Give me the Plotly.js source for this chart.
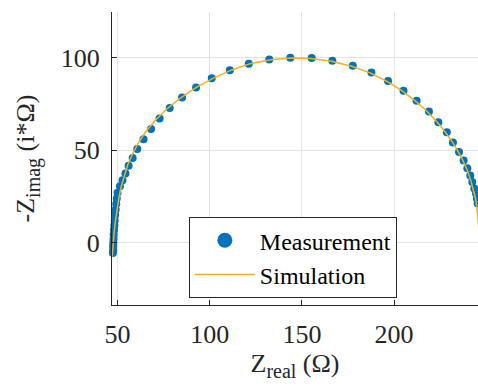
<!DOCTYPE html>
<html>
<head>
<meta charset="utf-8">
<script src="https://cdn.plot.ly/plotly-3.0.1.min.js"></script>
<style>html,body{margin:0;padding:0;background:#fff;}#chart{width:478px;height:389px;}</style>
</head>
<body>
<div id="chart"></div>
<script>
const measZreal = [47.5, 47.6, 47.6, 47.7, 47.8, 47.9, 48.1, 48.3, 48.5, 48.7, 49.0, 49.3, 49.6,
  50.0, 51.3, 52.7, 54.3, 56.0, 58.2, 60.7, 64.1, 68.2, 72.8, 78.3, 85.0, 92.6, 101.1, 110.9,
  121.2, 132.3, 143.7, 155.3, 166.5, 177.6, 187.7, 196.7, 205.1, 212.2, 218.9, 224.0, 228.6,
  231.9, 235.2, 237.7, 239.7, 241.3, 242.4, 243.5, 244.4, 244.9, 245.3, 245.6, 245.9, 246.1, 246.3, 246.5];
const measZimag = [-5.5, -4, -2, 0, 2, 4.5, 7, 9.5, 12, 15, 18, 21, 24,
  27.0, 30.6, 33.8, 37.4, 41.6, 45.8, 50.7, 56.0, 61.5, 67.1, 72.9, 78.5, 83.9, 88.9, 93.2,
  96.8, 99.0, 100.0, 99.8, 98.4, 95.7, 92.0, 87.4, 82.2, 76.8, 70.9, 65.1, 59.7,
  54.2, 49.1, 44.5, 40.3, 36.4, 32.9, 29.4, 26.7, 24.0, 21.3, 18.5, 15.5, 12.5, 9.5, 6.5];

// Simulation
const simZreal = [47.1, 47.4, 47.8, 48.3, 48.9, 49.7, 50.7, 51.9, 53.5, 55.5, 58.1, 61.3, 65.3,
  70.3, 76.4, 83.9, 92.5, 102.0, 112.0, 122.0, 133.0, 144.0, 155.0, 166.0, 177.0, 187.0,
  196.0, 204.0, 211.0, 217.0, 222.0, 226.5, 230.5, 234.0, 237.0, 239.5, 241.5, 243.0,
  244.2, 245.0, 245.6, 246.2, 246.6];
const simZimag = [-7.5, -3, 2, 7, 12, 18, 24, 30, 36, 42, 48, 54, 60,
  66, 72, 78, 83.8, 89.0, 93.4, 96.8, 98.9, 99.8, 99.6, 98.1, 95.4, 91.8,
  87.3, 82.3, 77.1, 71.9, 66.7, 61.5, 56.1, 50.6, 45.1, 39.6, 34.0, 29.0,
  23.8, 18.2, 12.2, 6.5, 0];

const xTicks = [50, 100, 150, 200];
const yTicks = [0, 50, 100];

const serif = '"Liberation Serif", "Times New Roman", serif';
const ink = '#262626';
const blue = '#0072BD';

const traces = [
  {
    x: measZreal, y: measZimag, type: 'scatter', mode: 'markers', name: 'Measurement',
    marker: {color: blue, size: 8}, cliponaxis: false, showlegend: false, legendgroup: 'm'
  },
  { // legend entry for Measurement (larger symbol, no data)
    x: [null], y: [null], type: 'scatter', mode: 'markers', name: 'Measurement',
    marker: {color: blue, size: 15}, legendgroup: 'm', legendrank: 1
  },
  {
    x: simZreal, y: simZimag, type: 'scatter', mode: 'lines', name: 'Simulation',
    line: {color: '#EDB120', width: 1.5}, cliponaxis: false, legendrank: 2
  }
];

const layout = {
  width: 478, height: 389,
  margin: {l: 112, r: 0, t: 12, b: 84},
  paper_bgcolor: '#fff', plot_bgcolor: '#fff',
  font: {family: serif, color: ink, size: 26},
  showlegend: true,
  legend: {
    x: 0.21, y: 0.30, xanchor: 'left', yanchor: 'top',
    bgcolor: '#fff', bordercolor: ink, borderwidth: 1,
    font: {family: serif, size: 24, color: '#000'},
    itemwidth: 60, tracegroupgap: 0, traceorder: 'normal'
  },
  xaxis: {
    range: [47, 245.5], tickvals: xTicks, ticktext: xTicks.map(String),
    ticks: 'inside', ticklen: 5, tickcolor: ink, showline: true, linecolor: ink, linewidth: 1,
    showgrid: true, gridcolor: '#e3e3e3', zeroline: false,
    tickfont: {family: serif, size: 26, color: ink}, ticklabelstandoff: 6,
    title: {text: 'Z<sub><span style="font-size:20px">real</span></sub> (Ω)', font: {family: serif, size: 26, color: ink}, standoff: 5}
  },
  yaxis: {
    range: [-33.6, 124.7], tickvals: yTicks, ticktext: yTicks.map(String),
    ticks: 'inside', ticklen: 5, tickcolor: ink, showline: true, linecolor: ink, linewidth: 1,
    showgrid: true, gridcolor: '#e3e3e3', zeroline: false,
    tickfont: {family: serif, size: 26, color: ink}, ticklabelstandoff: 6,
    title: {text: '-Z<sub><span style="font-size:20px">imag</span></sub> (i*Ω)', font: {family: serif, size: 26, color: ink}, standoff: 18}
  }
};

Plotly.newPlot('chart', traces, layout, {displayModeBar: false, staticPlot: true});
</script>
</body>
</html>
